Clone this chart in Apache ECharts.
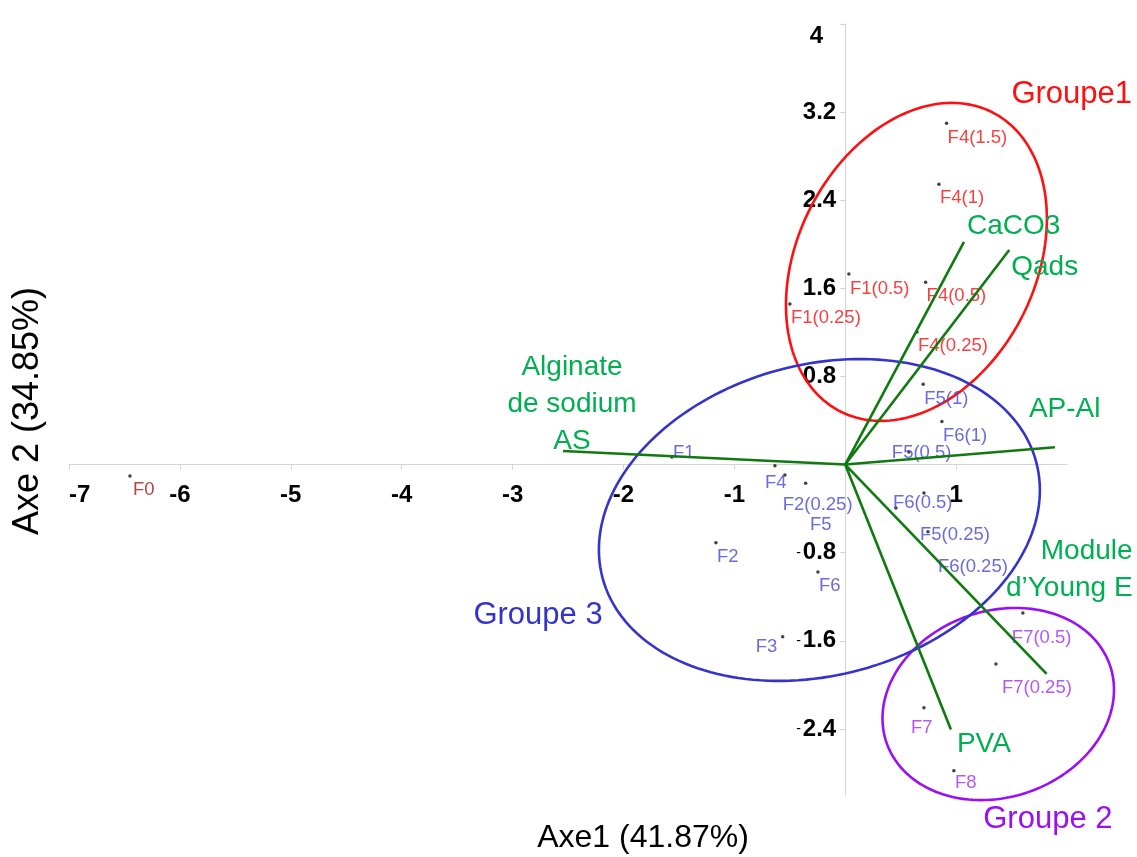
<!DOCTYPE html>
<html>
<head>
<meta charset="utf-8">
<script src="https://cdn.jsdelivr.net/npm/echarts@6/dist/echarts.min.js"></script>
<style>
  html, body { margin: 0; padding: 0; background: #ffffff; }
  #chart { width: 1137px; height: 857px; }
</style>
</head>
<body>
<div id="chart"></div>
<script>
// ---- Observations: scores on Axe1 / Axe2 ----
const obsNames = ['F0', 'F1', 'F1(0.25)', 'F1(0.5)', 'F2', 'F2(0.25)', 'F3', 'F4',
  'F4(0.25)', 'F4(0.5)', 'F4(1)', 'F4(1.5)', 'F5', 'F5(0.25)', 'F5(0.5)', 'F5(1)',
  'F6', 'F6(0.25)', 'F6(0.5)', 'F6(1)', 'F7', 'F7(0.25)', 'F7(0.5)', 'F8'];
const obsX = [-6.450, -1.563, -0.499, 0.033, -1.166, -0.357, -0.564, -0.634,
  0.647, 0.725, 0.845, 0.914, -0.544, 0.710, 0.574, 0.703,
  -0.246, 0.746, 0.457, 0.872, 0.710, 1.359, 1.602, 0.980];
const obsY = [-0.104, 0.069, 1.458, 1.731, -0.709, -0.170, -1.563, -0.010,
  1.204, 1.655, 2.545, 3.099, -0.094, -0.258, 0.114, 0.729,
  -0.975, -0.611, -0.394, 0.390, -2.207, -1.810, -1.347, -2.779];
const obsGroup = ['ref', 'g3', 'g1', 'g1', 'g3', 'g3', 'g3', 'g3',
  'g1', 'g1', 'g1', 'g1', 'g3', 'g3', 'g3', 'g3',
  'g3', 'g3', 'g3', 'g3', 'g2', 'g2', 'g2', 'g2'];

// ---- Variables: loadings drawn as vectors from the origin ----
const varNames = ['Alginate\nde sodium\nAS', 'CaCO3', 'Qads', 'AP-Al', 'Module\nd\u2019Young E', 'PVA'];
const varX = [-2.545, 1.071, 1.479, 1.891, 1.816, 0.953];
const varY = [0.123, 2.021, 1.948, 0.157, -1.901, -2.406];

// ---- Groups: ellipse centre, semi-axes (axis units) and tilt (degrees) ----
const groupNames = ['Groupe1', 'Groupe 2', 'Groupe 3'];
const groupCX = [0.642, 1.380, -0.233];
const groupCY = [1.840, -2.174, -0.503];
const groupRA = [1.513, 1.066, 2.024];
const groupRB = [1.073, 0.839, 1.401];
const groupTilt = [63.1, 19.2, 15.0];

// ---- Tick labels ----
const xTicks = [-7, -6, -5, -4, -3, -2, -1, 1];
const yTicks = [-2.4, -1.6, -0.8, 0.8, 1.6, 2.4, 3.2, 4];

// ---- Axis ranges ----
const xMin = -7, xMax = 2;
const yMin = -3, yMax = 4;

// ---- Layout ----
const W = 1137, H = 857;
const gridBox = { left: 69, right: 70, top: 24, bottom: 62 };
const plotW = W - gridBox.left - gridBox.right;
const plotH = H - gridBox.top - gridBox.bottom;
// the axes cross at the origin: shift them from the grid edges to zero
const xAxisShift = -plotH * (0 - yMin) / (yMax - yMin);
const yAxisShift = -plotW * (0 - xMin) / (xMax - xMin);

// ---- Styling ----
const FONT = '"Liberation Sans", Arial, sans-serif';
const TICK_FONT = 24;
const groupColor = { g1: '#f51010', g2: '#a02ef0', g3: '#4646d2', ref: '#a01414' };
const ellipseColor = { 'Groupe1': '#ff1010', 'Groupe 2': '#9a10f5', 'Groupe 3': '#3434cc' };
// label placement of each observation, in pixels from its dot (left edge, vertical middle)
const obsLabelOffset = {
  'F0': [3, 14], 'F1': [1, -4], 'F1(0.25)': [1, 14], 'F1(0.5)': [1, 15],
  'F2': [1, 14], 'F2(0.25)': [-23, 22], 'F3': [-27, 10], 'F4': [-10, 17],
  'F4(0.25)': [1, 14], 'F4(0.5)': [1, 14], 'F4(1)': [1, 14], 'F4(1.5)': [1, 15],
  'F5': [25, 50], 'F5(0.25)': [-4, 42], 'F5(0.5)': [-17, 1], 'F5(1)': [1, 15],
  'F6': [1, 14], 'F6(0.25)': [10, 35], 'F6(0.5)': [-3, -5], 'F6(1)': [1, 14],
  'F7': [-13, 20], 'F7(0.25)': [6, 24], 'F7(0.5)': [-11, 25], 'F8': [1, 12]
};
// variable name placement, in pixels from the vector tip
const varLabelPlace = {
  'Alginate\nde sodium\nAS': { dx: 9, dy: -47, align: 'center' },
  'CaCO3': { dx: 3, dy: -16, align: 'left' },
  'Qads': { dx: 2, dy: 17, align: 'left' },
  'AP-Al': { dx: -26, dy: -38, align: 'left' },
  'Module\nd\u2019Young E': { dx: 86, dy: -104, align: 'right' },
  'PVA': { dx: 6, dy: 15, align: 'left' }
};
// group name placement, in pixels from the ellipse centre
const groupLabelPlace = {
  'Groupe1': { dx: 95, dy: -167 },
  'Groupe 2': { dx: -15, dy: 115 },
  'Groupe 3': { dx: -346, dy: 95 }
};

// scatter series, one per group colour
const groupKeys = ['ref', 'g1', 'g2', 'g3'];
const scatterSeries = groupKeys.map(function (g) {
  const data = [];
  obsNames.forEach(function (n, i) {
    if (obsGroup[i] !== g) return;
    data.push({
      name: n,
      value: [obsX[i], obsY[i]],
      label: { offset: obsLabelOffset[n] }
    });
  });
  return {
    type: 'scatter',
    z: 2,
    silent: true,
    symbol: 'circle',
    symbolSize: 3.5,
    itemStyle: { color: '#111111' },
    label: {
      show: true,
      position: 'inside',
      align: 'left',
      verticalAlign: 'middle',
      formatter: '{b}',
      color: groupColor[g],
      fontFamily: FONT,
      fontSize: 18.5
    },
    data: data
  };
});

const ellipseData = groupNames.map(function (n, i) {
  return [groupCX[i], groupCY[i], groupRA[i], groupRB[i], groupTilt[i]];
});

const ellipseSeries = {
  type: 'custom',
  z: 1,
  silent: true,
  clip: false,
  encode: { x: 0, y: 1 },
  data: ellipseData,
  renderItem: function (params, api) {
    const name = groupNames[params.dataIndex];
    const c = api.coord([api.value(0), api.value(1)]);
    const unit = api.size([1, 1]);
    const a = api.value(2) * unit[0];
    const b = api.value(3) * unit[0];
    const phi = api.value(4) * Math.PI / 180;
    const pts = [];
    const steps = 180;
    for (let k = 0; k < steps; k++) {
      const t = 2 * Math.PI * k / steps;
      const ex = a * Math.cos(t), ey = b * Math.sin(t);
      pts.push([c[0] + ex * Math.cos(phi) - ey * Math.sin(phi),
                c[1] - (ex * Math.sin(phi) + ey * Math.cos(phi))]);
    }
    const place = groupLabelPlace[name];
    return {
      type: 'group',
      children: [
        { type: 'polygon', shape: { points: pts },
          style: { fill: 'none', stroke: ellipseColor[name], lineWidth: 2.6 } },
        { type: 'text', x: c[0] + place.dx, y: c[1] + place.dy,
          style: { text: name, fill: ellipseColor[name], font: '31px ' + FONT,
                   align: 'left', verticalAlign: 'middle' } }
      ]
    };
  }
};

const vectorSeries = {
  type: 'custom',
  z: 3,
  silent: true,
  clip: false,
  encode: { x: 0, y: 1 },
  data: varNames.map(function (n, i) { return [varX[i], varY[i]]; }),
  renderItem: function (params, api) {
    const name = varNames[params.dataIndex];
    const o = api.coord([0, 0]);
    const e = api.coord([api.value(0), api.value(1)]);
    const place = varLabelPlace[name];
    return {
      type: 'group',
      children: [
        { type: 'line', shape: { x1: o[0], y1: o[1], x2: e[0], y2: e[1] },
          style: { stroke: '#107a10', lineWidth: 2.6 } },
        { type: 'text', x: e[0] + place.dx, y: e[1] + place.dy,
          style: { text: name, fill: '#00b050', font: '28px ' + FONT,
                   align: place.align, verticalAlign: 'middle', lineHeight: 37 } }
      ]
    };
  }
};

const chart = echarts.init(document.getElementById('chart'), null, { renderer: 'canvas' });
chart.setOption({
  animation: false,
  backgroundColor: '#ffffff',
  grid: { left: gridBox.left, right: gridBox.right, top: gridBox.top, bottom: gridBox.bottom,
          containLabel: false, outerBoundsMode: 'none' },
  xAxis: {
    type: 'value',
    min: xMin,
    max: xMax,
    position: 'bottom',
    offset: xAxisShift,
    axisLine: { onZero: false, lineStyle: { color: '#d4d4d4', width: 1 } },
    axisTick: { show: true, length: 5, lineStyle: { color: '#d4d4d4' }, customValues: xTicks },
    axisLabel: {
      customValues: xTicks,
      alignMinLabel: 'left',
      margin: 19,
      color: '#000000',
      fontFamily: FONT,
      fontWeight: 'bold',
      fontSize: TICK_FONT,
      formatter: function (v) { return String(v); }
    },
    splitLine: { show: false }
  },
  yAxis: {
    type: 'value',
    min: yMin,
    max: yMax,
    position: 'left',
    offset: yAxisShift,
    axisLine: { onZero: false, lineStyle: { color: '#d4d4d4', width: 1 } },
    axisTick: { show: true, length: 5, lineStyle: { color: '#d4d4d4' }, customValues: yTicks },
    axisLabel: {
      customValues: yTicks,
      verticalAlignMaxLabel: 'top',
      margin: 9,
      color: '#000000',
      fontFamily: FONT,
      fontWeight: 'bold',
      fontSize: TICK_FONT,
      formatter: function (v) {
        const s = String(Math.abs(v));
        if (v === 4) return '{p|' + s + '}';
        return v < 0 ? '{m|-}{v|' + s + '}' : '{v|' + s + '}';
      },
      rich: {
        v: { fontFamily: FONT, fontWeight: 'bold', fontSize: TICK_FONT, color: '#000' },
        p: { fontFamily: FONT, fontWeight: 'bold', fontSize: TICK_FONT, color: '#000', padding: [0, 13, 0, 0] },
        m: { fontFamily: FONT, fontWeight: 'normal', fontSize: 14, color: '#000', padding: [0, 2, 0, 0] }
      }
    },
    splitLine: { show: false }
  },
  graphic: [
    { type: 'text', x: 643, y: 838, silent: true,
      style: { text: 'Axe1 (41.87%)', fill: '#000', font: '32px ' + FONT,
               align: 'center', verticalAlign: 'middle' } },
    { type: 'text', x: 28, y: 411, rotation: Math.PI / 2, silent: true,
      style: { text: 'Axe 2 (34.85%)', fill: '#000', font: '36px ' + FONT,
               align: 'center', verticalAlign: 'middle' } }
  ],
  series: [ellipseSeries].concat(scatterSeries, [vectorSeries])
});
</script>
</body>
</html>
